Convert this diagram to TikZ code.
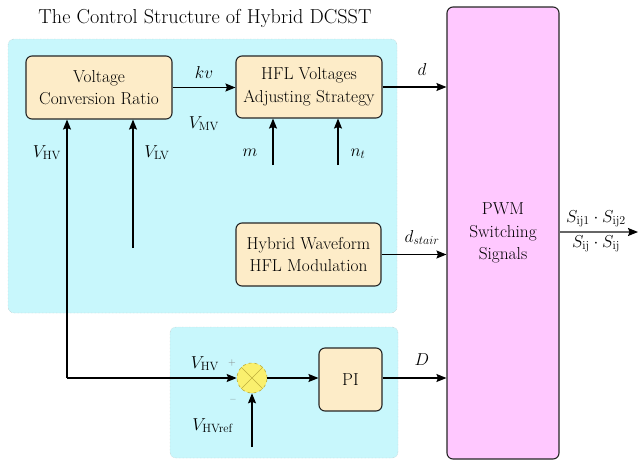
\documentclass[tikz,border=0pt]{standalone}
\usetikzlibrary{arrows.meta}
\definecolor{cyanbg}{RGB}{200,247,252}
\definecolor{boxfill}{RGB}{253,236,200}
\definecolor{pwmfill}{RGB}{255,200,255}
\definecolor{sumfill}{RGB}{250,240,110}
\definecolor{sumline}{RGB}{190,175,60}
\tikzset{
  region/.style={draw=gray!55, densely dotted, fill=cyanbg, rounded corners=6pt},
  blockbox/.style={draw=black!85, line width=1.1pt, fill=boxfill, rounded corners=6pt,
    align=center, font=\fontsize{17.3}{22.5}\selectfont, inner sep=0pt},
  sig/.style={line width=1.1pt, -{Stealth[length=10pt,width=8pt,inset=1.5pt]}},
  lbl/.style={font=\fontsize{17.5}{21}\selectfont, inner sep=0pt, anchor=base},
}
\begin{document}
\begin{tikzpicture}[x=1pt,y=-1pt]
\useasboundingbox (0,0) rectangle (639,461);

% title
\node[font=\fontsize{20.2}{24}\selectfont, inner sep=0pt, anchor=base] (title) at (205,23)
  {The Control Structure of Hybrid DCSST};

% background regions
\draw[region] (8,39) rectangle (397,313);
\draw[region] (170,327) rectangle (398,458);

% blocks
\node[blockbox, minimum width=146pt, minimum height=63pt] (vcr) at (99,87.5)
  {Voltage\\Conversion Ratio};
\node[blockbox, minimum width=146pt, minimum height=62pt] (hfl) at (309,87)
  {HFL Voltages\\Adjusting Strategy};
\node[blockbox, minimum width=145pt, minimum height=63pt] (hwm) at (308.5,254.5)
  {Hybrid Waveform\\HFL Modulation};
\node[blockbox, fill=pwmfill, minimum width=112pt, minimum height=452pt] (pwm) at (503,233)
  {PWM\\Switching\\Signals};
\node[blockbox, minimum width=63pt, minimum height=63pt] (pi) at (350.5,379.5) {PI};
\node[circle, draw=sumline, dashed, line width=0.6pt, fill=sumfill, minimum size=30pt,
  inner sep=0pt] (sum) at (252,378) {};
\draw[sumline, line width=0.6pt] (sum.north west) -- (sum.south east)
  (sum.north east) -- (sum.south west);

% free ends
\coordinate (hvc) at (67,378);
\coordinate (lvs) at (133,248);
\coordinate (ms) at (273,165);
\coordinate (nts) at (338,165);
\coordinate (refs) at (252,447);
\coordinate (out) at (638,232);

% connectors
\draw[sig] (vcr.east) -- (vcr.east -| hfl.west);
\draw[sig] (hfl.east) -- (hfl.east -| pwm.west);
\draw[sig] (hwm.east) -- (hwm.east -| pwm.west);
\draw[sig] (sum.east) -- (sum.east -| pi.west);
\draw[sig] (pi.east |- sum.east) -- (sum.east -| pwm.west);
\draw[sig] (hvc) -- (sum.west);
\draw[sig] (hvc) -- (hvc |- vcr.south);
\draw[sig] (lvs) -- (lvs |- vcr.south);
\draw[sig] (ms) -- (ms |- hfl.south);
\draw[sig] (nts) -- (nts |- hfl.south);
\draw[sig] (refs) -- (sum.south);
\draw[line width=1.1pt, draw=black!60, -{Stealth[length=10pt,width=8pt,inset=1.5pt,color=black]}]
  (pwm.east |- out) -- (out);

% labels
\node[lbl] (lkv) at (204,78) {$kv$};
\node[lbl] (lmv) at (204,128) {$V_{\mathrm{MV}}$};
\node[lbl] (lhv) at (47,157) {$V_{\mathrm{HV}}$};
\node[lbl] (llv) at (157,157) {$V_{\mathrm{LV}}$};
\node[lbl] (lm) at (250,156) {$m$};
\node[lbl] (lnt) at (358,156) {$n_t$};
\node[lbl] (ld) at (422,75) {$d$};
\node[lbl] (lds) at (422,242) {$d_{stair}$};
\node[lbl] (lD) at (422,365) {$D$};
\node[lbl] (lhv2) at (205,368) {$V_{\mathrm{HV}}$};
\node[lbl] (lref) at (213,430) {$V_{\mathrm{HVref}}$};
\node[font=\fontsize{10}{12}\selectfont, text=gray, inner sep=0pt] (lplus) at (232,363) {+};
\node[font=\fontsize{11}{12}\selectfont, text=black!70, inner sep=0pt] (lminus) at (233,401) {\textendash};
\node[lbl] (ls1) at (596,222) {$S_{\mathrm{ij1}}\cdot S_{\mathrm{ij2}}$};
\node[lbl] (ls2) at (596,247) {$S_{\mathrm{ij}}\cdot S_{\mathrm{ij}}$};
\end{tikzpicture}
\end{document}
